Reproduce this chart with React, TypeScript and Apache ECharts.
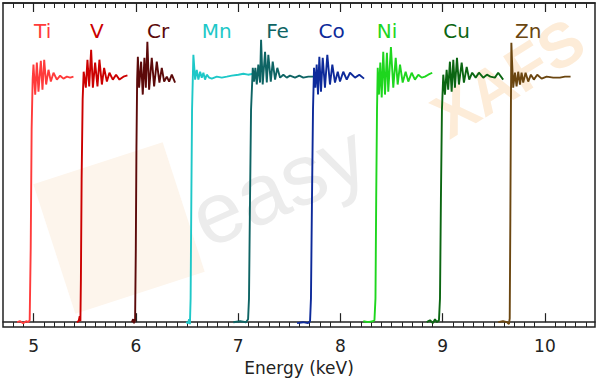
import React, { useEffect, useRef } from "react";
import * as echarts from "echarts";

const ELEMENTS = ["Ti", "V", "Cr", "Mn", "Fe", "Co", "Ni", "Cu", "Zn"];
const COLORS = ["#ff3b3b", "#cc0000", "#5c0a0a", "#1ec8c8", "#0e6464", "#0d2a9a", "#1ed61e", "#0b6612", "#6b4610"];
const LABEL_X = [5.088, 5.618, 6.217, 6.79, 7.385, 7.915, 8.456, 9.137, 9.837];
const LABEL_Y = 1.186;

const TI_E = [4.839, 4.868, 4.897, 4.927, 4.946, 4.961, 4.971, 4.98, 4.99, 4.998, 5.015, 5.031, 5.047, 5.07, 5.086, 5.103, 5.122, 5.145, 5.168, 5.194, 5.227, 5.259, 5.291, 5.325, 5.357, 5.389];
const TI_MU = [0, 0.004, -0.004, 0.004, 0, 0.008, 0.3, 0.785, 0.988, 1.049, 0.927, 1.057, 0.939, 1.065, 0.947, 1.069, 0.968, 1.028, 0.98, 1.016, 0.988, 1.004, 0.992, 1.0, 0.996, 1.0];

const V_E = [5.422, 5.44, 5.45, 5.457, 5.462, 5.469, 5.479, 5.489, 5.51, 5.526, 5.543, 5.562, 5.579, 5.601, 5.624, 5.643, 5.667, 5.689, 5.716, 5.741, 5.774, 5.806, 5.839, 5.878, 5.917];
const V_MU = [0, 0.004, 0.024, 0.004, 0.178, 0.583, 0.907, 1.02, 0.955, 1.069, 0.96, 1.109, 0.955, 1.057, 0.96, 1.069, 0.968, 1.036, 0.98, 1.016, 0.988, 1.008, 0.988, 1.0, 1.005];

const CR_E = [5.96, 5.973, 5.982, 5.992, 5.999, 6.005, 6.012, 6.019, 6.031, 6.051, 6.067, 6.083, 6.097, 6.112, 6.129, 6.155, 6.178, 6.204, 6.23, 6.253, 6.276, 6.302, 6.325, 6.351, 6.383];
const CR_MU = [0, 0.012, -0.004, 0.008, 0.3, 0.704, 0.988, 1.081, 0.955, 1.061, 0.927, 1.077, 0.955, 1.142, 0.947, 1.077, 0.96, 1.061, 0.976, 1.036, 0.98, 1.0, 0.98, 1.008, 0.976];

const MN_E = [6.491, 6.51, 6.52, 6.528, 6.535, 6.542, 6.549, 6.562, 6.579, 6.595, 6.611, 6.628, 6.644, 6.66, 6.676, 6.693, 6.716, 6.742, 6.791, 6.84, 6.889, 6.937, 7.002, 7.051, 7.096, 7.149];
const MN_MU = [0, -0.004, 0.012, -0.008, 0.097, 0.502, 0.866, 1.089, 0.988, 1.028, 0.988, 1.02, 0.996, 1.016, 0.988, 1.008, 0.996, 0.992, 1.0, 0.996, 1.0, 1.004, 1.008, 1.012, 1.008, 1.012];

const FE_E = [6.953, 7.019, 7.077, 7.097, 7.106, 7.116, 7.126, 7.143, 7.155, 7.168, 7.182, 7.197, 7.214, 7.224, 7.24, 7.263, 7.28, 7.295, 7.319, 7.338, 7.361, 7.383, 7.41, 7.442, 7.475, 7.507, 7.556, 7.598, 7.637, 7.686, 7.735, 7.781];
const FE_MU = [0, 0.004, 0, 0.012, 0.097, 0.502, 0.866, 1.036, 0.98, 1.036, 0.968, 1.049, 0.976, 1.15, 0.968, 1.101, 0.976, 1.089, 0.98, 1.061, 0.988, 1.036, 0.996, 1.008, 0.996, 1.004, 0.996, 1.004, 0.996, 1.0, 1.0, 1.004];

const CO_E = [7.576, 7.634, 7.683, 7.703, 7.712, 7.722, 7.732, 7.742, 7.755, 7.768, 7.781, 7.794, 7.81, 7.827, 7.849, 7.872, 7.898, 7.921, 7.947, 7.974, 7.996, 8.028, 8.062, 8.094, 8.143, 8.185, 8.231];
const CO_MU = [-0.004, 0, -0.004, 0.004, 0.097, 0.502, 0.866, 1.036, 0.955, 1.049, 0.927, 1.081, 0.939, 1.077, 0.955, 1.089, 0.968, 1.049, 0.976, 1.02, 0.98, 1.02, 0.988, 1.016, 0.996, 1.008, 0.992];

const NI_E = [8.224, 8.27, 8.319, 8.333, 8.343, 8.35, 8.358, 8.365, 8.377, 8.39, 8.404, 8.419, 8.436, 8.455, 8.468, 8.494, 8.517, 8.541, 8.56, 8.583, 8.609, 8.638, 8.664, 8.697, 8.729, 8.762, 8.795, 8.827, 8.859, 8.898];
const NI_MU = [0.004, 0, 0.004, 0.008, 0.097, 0.502, 0.866, 1.036, 0.927, 1.057, 0.915, 1.101, 0.927, 1.097, 0.939, 1.121, 0.955, 1.077, 0.968, 1.049, 0.976, 1.02, 0.98, 1.016, 0.988, 1.008, 0.996, 1.0, 1.008, 1.016];

const CU_E = [8.844, 8.876, 8.905, 8.925, 8.944, 8.964, 8.974, 8.983, 8.993, 9.006, 9.022, 9.039, 9.054, 9.071, 9.088, 9.104, 9.12, 9.14, 9.159, 9.186, 9.208, 9.235, 9.26, 9.289, 9.323, 9.355, 9.397, 9.433, 9.467, 9.511, 9.543, 9.592];
const CU_MU = [0, 0.008, -0.004, 0.012, 0, 0.008, 0.097, 0.502, 0.866, 1.008, 0.927, 1.028, 0.947, 1.061, 0.939, 1.069, 0.955, 1.077, 0.968, 1.057, 0.976, 1.04, 0.988, 1.016, 0.996, 1.016, 0.996, 1.008, 1.0, 0.996, 1.016, 0.988];

const ZN_E = [9.544, 9.59, 9.629, 9.648, 9.656, 9.662, 9.668, 9.672, 9.678, 9.69, 9.707, 9.723, 9.739, 9.756, 9.772, 9.788, 9.811, 9.837, 9.863, 9.892, 9.925, 9.968, 10.017, 10.081, 10.147, 10.196, 10.251];
const ZN_MU = [0, 0.004, 0, -0.008, 0.016, 0.421, 0.907, 1.138, 1.069, 0.955, 1.016, 0.96, 1.02, 0.968, 1.016, 0.976, 1.016, 0.98, 1.008, 0.988, 1.008, 0.992, 1.0, 0.996, 0.996, 1.0, 1.0];

const SPECTRA_E = [TI_E, V_E, CR_E, MN_E, FE_E, CO_E, NI_E, CU_E, ZN_E];
const SPECTRA_MU = [TI_MU, V_MU, CR_MU, MN_MU, FE_MU, CO_MU, NI_MU, CU_MU, ZN_MU];

const X_MIN = 4.7;
const X_MAX = 10.49;
const MAJOR_TICKS = [5, 6, 7, 8, 9, 10];
const MINOR_TICKS: number[] = [];
for (let i = 48; i <= 104; i++) {
  if (i % 10 !== 0) MINOR_TICKS.push(i / 10);
}

const FONT = "DejaVu Sans";
const AXIS_COLOR = "#222";

export default function App() {
  const ref = useRef<HTMLDivElement>(null);

  useEffect(() => {
    if (!ref.current) return;
    const chart = echarts.init(ref.current, undefined, { renderer: "svg" });

    const lineSeries = ELEMENTS.map((name, i) => ({
      type: "line",
      name,
      data: SPECTRA_E[i].map((e, j) => [e, SPECTRA_MU[i][j]]),
      showSymbol: false,
      symbol: "none",
      lineStyle: { color: COLORS[i], width: 1.9 },
      itemStyle: { color: COLORS[i] },
      z: 5,
    }));

    const labelSeries = {
      type: "scatter",
      name: "labels",
      symbolSize: 1,
      itemStyle: { color: "rgba(0,0,0,0)", opacity: 1 },
      z: 6,
      data: ELEMENTS.map((name, i) => ({
        value: [LABEL_X[i], LABEL_Y],
        name,
        label: {
          show: true,
          position: "inside",
          formatter: name,
          color: COLORS[i],
          opacity: 1,
          fontSize: 20,
          fontFamily: FONT,
        },
      })),
    };

    const baseX = {
      type: "value",
      min: X_MIN,
      max: X_MAX,
      splitLine: { show: false },
    };

    const option = {
      animation: false,
      backgroundColor: "#ffffff",
      grid: {
        left: 3,
        right: 5,
        top: 3,
        bottom: 52,
        show: true,
        borderColor: AXIS_COLOR,
        borderWidth: 1.5,
        backgroundColor: "transparent",
      },
      graphic: [
        {
          type: "rect",
          x: 119,
          y: 228,
          rotation: (18 * Math.PI) / 180,
          shape: { x: -68, y: -68, width: 136, height: 136 },
          style: { fill: "#fdf5ec" },
          z: 0,
          silent: true,
        },
        {
          type: "text",
          x: 278,
          y: 185,
          rotation: (24 * Math.PI) / 180,
          style: {
            text: "easy",
            fill: "#ececec",
            font: "86px 'Liberation Sans', Arial, sans-serif",
            textAlign: "center",
            textVerticalAlign: "middle",
          },
          z: 0,
          silent: true,
        },
        {
          type: "text",
          x: 508,
          y: 78,
          rotation: (32 * Math.PI) / 180,
          style: {
            text: "XAFS",
            fill: "#fdecd8",
            font: "bold 62px 'Liberation Sans', Arial, sans-serif",
            textAlign: "center",
            textVerticalAlign: "middle",
          },
          z: 0,
          silent: true,
        },
      ],
      xAxis: [
        {
          ...baseX,
          position: "bottom",
          name: "Energy (keV)",
          nameLocation: "middle",
          nameGap: 30,
          nameTextStyle: { color: AXIS_COLOR, fontSize: 17, fontFamily: FONT },
          axisLine: { show: true, lineStyle: { color: AXIS_COLOR, width: 1.5 } },
          axisTick: { show: true, inside: true, length: 9, customValues: MAJOR_TICKS, lineStyle: { color: AXIS_COLOR, width: 1.2 } },
          axisLabel: { show: true, customValues: MAJOR_TICKS, margin: 10, color: AXIS_COLOR, fontSize: 17, fontFamily: FONT },
        },
        {
          ...baseX,
          position: "bottom",
          axisLine: { show: false },
          axisTick: { show: true, inside: true, length: 5, customValues: MINOR_TICKS, lineStyle: { color: AXIS_COLOR, width: 1 } },
          axisLabel: { show: false },
        },
        {
          ...baseX,
          position: "top",
          axisLine: { show: true, lineStyle: { color: AXIS_COLOR, width: 1.5 } },
          axisTick: { show: true, inside: true, length: 9, customValues: MAJOR_TICKS, lineStyle: { color: AXIS_COLOR, width: 1.2 } },
          axisLabel: { show: false },
        },
        {
          ...baseX,
          position: "top",
          axisLine: { show: false },
          axisTick: { show: true, inside: true, length: 5, customValues: MINOR_TICKS, lineStyle: { color: AXIS_COLOR, width: 1 } },
          axisLabel: { show: false },
        },
      ],
      yAxis: {
        type: "value",
        min: -0.02,
        max: 1.3,
        show: false,
        splitLine: { show: false },
      },
      series: [...lineSeries, labelSeries],
    };

    chart.setOption(option as any);
    return () => chart.dispose();
  }, []);

  return (
    <div
      ref={ref}
      style={{ position: "fixed", left: 0, top: 0, width: 600, height: 381 }}
    />
  );
}
